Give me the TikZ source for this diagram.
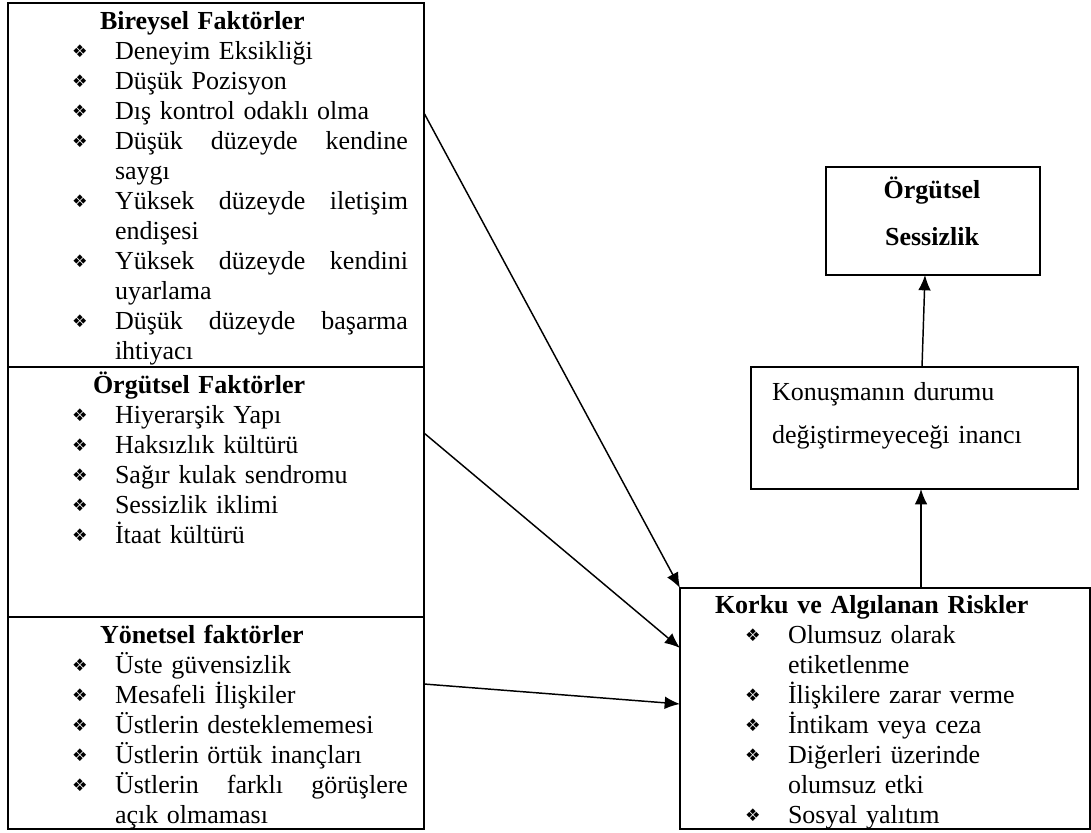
\documentclass[tikz,border=0pt]{standalone}
\usepackage{fontspec}
\setmainfont{Liberation Serif}
\newfontfamily\dejavu{DejaVu Sans}
\usetikzlibrary{arrows.meta}
\newlength\px \setlength\px{0.75pt}
\newcommand\bul{\makebox[10\px]{\raisebox{1.5\px}{\dejavu\fontsize{13pt}{13pt}\selectfont ❖}}}
\newcommand\bitem[2][0pt]{\noindent\hspace*{#1}\bul\hspace*{30\px}#2\par}
\newcommand\bjust[1]{\noindent\bul\hspace*{30\px}\hbox to 293\px{#1}\par}
\newcommand\bcont[2][0pt]{\noindent\hspace*{\dimexpr#1+40\px\relax}#2\par}
\newcommand\ttl[2]{\noindent\hspace*{#1}\textbf{#2}\par}
\tikzset{
  box/.style={draw, line width=1.6\px, inner sep=0pt, outer sep=0pt, anchor=north west},
  txt/.style={anchor=base west, inner sep=0pt, outer sep=0pt, font=\fontsize{19.5pt}{22.5pt}\selectfont},
  arr/.style={-{Latex[length=11.5pt,width=9.5pt]}, line width=1.1pt}
}
\begin{document}
\begin{tikzpicture}[x=0.75pt,y=-0.75pt]
\useasboundingbox (0,0) rectangle (1091,832);
% boxes
\node[box, minimum width=416\px, minimum height=364\px] (b1) at (8,3) {};
\node[box, minimum width=416\px, minimum height=250\px] (b2) at (8,367) {};
\node[box, minimum width=416\px, minimum height=212\px] (b3) at (8,617) {};
\node[box, minimum width=214\px, minimum height=108\px] (sess) at (826,167) {};
\node[box, minimum width=327\px, minimum height=122\px] (konu) at (751,367) {};
\node[box, minimum width=410\px, minimum height=241\px] (korku) at (680,588) {};
% texts
\node[txt, text width=345\px] (t1) at (75,29) {%
\ttl{25\px}{Bireysel Faktörler}
\bitem{Deneyim Eksikliği}
\bitem{Düşük Pozisyon}
\bitem{Dış kontrol odaklı olma}
\bjust{Düşük\hfill düzeyde\hfill kendine}
\bcont{saygı}
\bjust{Yüksek\hfill düzeyde\hfill iletişim}
\bcont{endişesi}
\bjust{Yüksek\hfill düzeyde\hfill kendini}
\bcont{uyarlama}
\bjust{Düşük\hfill düzeyde\hfill başarma}
\bcont{ihtiyacı}};
\node[txt, text width=345\px] (t2) at (75,393) {%
\ttl{18\px}{Örgütsel Faktörler}
\bitem{Hiyerarşik Yapı}
\bitem{Haksızlık kültürü}
\bitem{Sağır kulak sendromu}
\bitem{Sessizlik iklimi}
\bitem{İtaat kültürü}};
\node[txt, text width=345\px] (t3) at (75,643) {%
\ttl{25\px}{Yönetsel faktörler}
\bitem{Üste güvensizlik}
\bitem{Mesafeli İlişkiler}
\bitem{Üstlerin desteklememesi}
\bitem{Üstlerin örtük inançları}
\bjust{Üstlerin\hfill farklı\hfill görüşlere}
\bcont{açık olmaması}};
\node[txt, text width=365\px] (t4) at (715,613) {%
\ttl{0pt}{Korku ve Algılanan Riskler}
\bitem[33\px]{Olumsuz olarak}
\bcont[33\px]{etiketlenme}
\bitem[33\px]{İlişkilere zarar verme}
\bitem[33\px]{İntikam veya ceza}
\bitem[33\px]{Diğerleri üzerinde}
\bcont[33\px]{olumsuz etki}
\bitem[33\px]{Sosyal yalıtım}};
\node[txt, text width=300\px, font=\fontsize{19.5pt}{32.25pt}\selectfont] (t5) at (772,400) {%
Konuşmanın durumu\par değiştirmeyeceği inancı};
\node[txt, anchor=base, text width=180\px, align=center, font=\fontsize{19.5pt}{35.25pt}\selectfont\bfseries] (t6) at (932,198) {%
Örgütsel\par Sessizlik};
% connector end points on box edges
\coordinate (s1) at (424,113);
\coordinate (s2) at (424,433);
\coordinate (s3) at (424,684);
\coordinate (e2) at (680,648);
\coordinate (e3) at (680,704);
\coordinate (u1) at (922,367);
\coordinate (u2) at (925,275);
\coordinate (v1) at (921,588);
\coordinate (v2) at (921,489);
% connectors
\draw[arr] (s1) -- (korku.north west);
\draw[arr] (s2) -- (e2);
\draw[arr] (s3) -- (e3);
\draw[arr] (u1) -- (u2);
\draw[arr] (v1) -- (v2);
\end{tikzpicture}
\end{document}
